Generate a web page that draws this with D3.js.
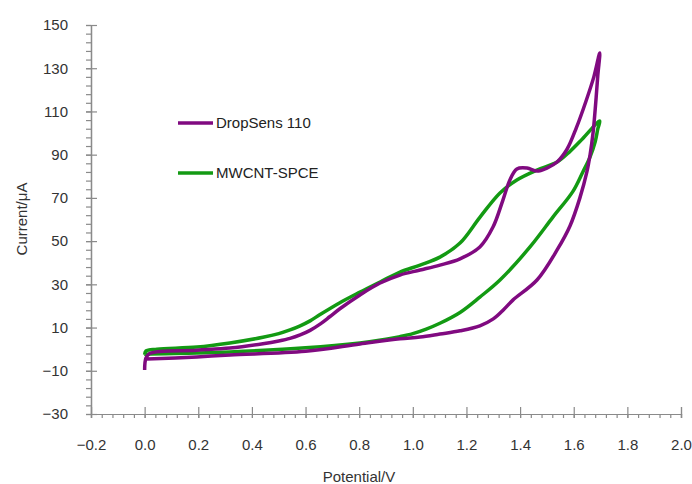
<!DOCTYPE html>
<html>
<head>
<meta charset="utf-8">
<script src="https://cdn.jsdelivr.net/npm/d3@7"></script>
<style>
  body { margin: 0; background: #fff; }
  text { font-family: "Liberation Sans", Arial, sans-serif; }
</style>
</head>
<body>
<script>
// cyclic voltammograms: forward scan then reverse scan
const dropSensV = [0.0, 0.005, 0.02, 0.195, 0.318, 0.441, 0.5, 0.542, 0.58, 0.617, 0.654, 0.69, 0.728, 0.803, 0.878, 0.952, 1.027, 1.101, 1.176, 1.25, 1.299, 1.336, 1.362, 1.388, 1.426, 1.463, 1.5, 1.538, 1.575, 1.61, 1.645, 1.675, 1.697,
  1.69, 1.682, 1.672, 1.661, 1.649, 1.623, 1.586, 1.538, 1.463, 1.373, 1.34, 1.3, 1.25, 1.176, 1.101, 1.027, 0.952, 0.803, 0.6, 0.318, 0.195, 0.009]
const dropSensI = [-9.6, -4.1, -1.9, -0.5, 0.5, 2.5, 3.8, 5.0, 6.6, 8.7, 11.6, 15.0, 18.7, 25.1, 30.6, 34.3, 36.6, 38.9, 41.8, 47.3, 56.5, 69.0, 78.3, 83.4, 83.8, 82.4, 83.8, 86.6, 92.5, 102.5, 114.5, 126.0, 137.0,
  127.0, 114.0, 100.0, 90.0, 82.0, 70.0, 57.0, 45.9, 32.0, 22.7, 18.5, 14.0, 10.8, 8.5, 7.0, 5.6, 4.8, 2.4, -1.0, -2.7, -3.6, -4.6]

const mwcntV = [0.0, 0.005, 0.046, 0.195, 0.318, 0.441, 0.5, 0.542, 0.58, 0.617, 0.654, 0.728, 0.803, 0.878, 0.952, 1.027, 1.101, 1.176, 1.25, 1.325, 1.388, 1.463, 1.538, 1.586, 1.634, 1.697,
  1.69, 1.68, 1.661, 1.634, 1.597, 1.523, 1.437, 1.325, 1.25, 1.176, 1.101, 1.05, 1.0, 0.952, 0.9, 0.803, 0.6, 0.318, 0.195, 0.02, -0.002]
const mwcntI = [-2.5, -0.8, 0.0, 1.0, 2.9, 5.5, 7.2, 8.9, 10.8, 13.1, 16.0, 21.5, 26.4, 31.1, 35.7, 38.9, 42.6, 49.1, 61.0, 72.3, 78.3, 82.9, 86.6, 91.5, 97.5, 105.6,
  102.0, 96.0, 89.0, 82.0, 73.0, 61.2, 47.3, 32.0, 24.1, 17.0, 12.0, 9.3, 7.2, 5.8, 4.6, 2.9, 0.6, -1.3, -1.8, -2.2, -2.4]

const seriesNames = ['DropSens 110', 'MWCNT-SPCE']
const xTicks = [-0.2, 0.0, 0.2, 0.4, 0.6, 0.8, 1.0, 1.2, 1.4, 1.6, 1.8, 2.0]
const yTicks = [-30, -10, 10, 30, 50, 70, 90, 110, 130, 150]

const m = { width: 692, height: 484 }
const colors = ['#800a80', '#139a13']

const svg = d3.select('body').append('svg')
  .attr('width', m.width)
  .attr('height', m.height)

const x = d3.scaleLinear().domain([-0.2, 2.0]).range([91, 681])
const y = d3.scaleLinear().domain([-30, 150]).range([414, 25])

const axisColor = '#8a8a8a'
const labelColor = '#333'

function styleAxis(g) {
  g.select('.domain').attr('stroke', axisColor).attr('stroke-width', 1.2)
  g.selectAll('.tick line').attr('stroke', axisColor).attr('stroke-width', 1.2)
  g.selectAll('.tick text').attr('fill', labelColor).attr('font-size', 15)
}

// minor ticks
const xMinor = d3.range(-0.2, 2.0001, 0.04)
const yMinor = d3.range(-30, 150.001, 4)

svg.append('g')
  .attr('transform', 'translate(0,414)')
  .call(d3.axisBottom(x).tickValues(xMinor).tickSize(4).tickFormat(''))
  .call(styleAxis)

svg.append('g')
  .attr('transform', 'translate(91,0)')
  .call(d3.axisLeft(y).tickValues(yMinor).tickSize(5).tickFormat(''))
  .call(styleAxis)

// major ticks crossing the axes
svg.append('g')
  .attr('transform', 'translate(0,414)')
  .call(d3.axisTop(x).tickValues(xTicks).tickSize(7).tickFormat(''))
  .call(styleAxis)

svg.append('g')
  .attr('transform', 'translate(91,0)')
  .call(d3.axisRight(y).tickValues(yTicks).tickSize(6).tickFormat(''))
  .call(styleAxis)

svg.append('g')
  .attr('transform', 'translate(0,414)')
  .call(d3.axisBottom(x).tickValues(xTicks).tickSize(4).tickPadding(21).tickFormat(d3.format('.1f')))
  .call(styleAxis)

svg.append('g')
  .attr('transform', 'translate(91,0)')
  .call(d3.axisLeft(y).tickValues(yTicks).tickSize(5).tickPadding(18))
  .call(styleAxis)

// axis titles
svg.append('text')
  .attr('x', 359)
  .attr('y', 482)
  .attr('text-anchor', 'middle')
  .attr('font-size', 15)
  .attr('fill', labelColor)
  .text('Potential/V')

svg.append('text')
  .attr('transform', 'translate(27,219) rotate(-90)')
  .attr('text-anchor', 'middle')
  .attr('font-size', 15)
  .attr('fill', labelColor)
  .text('Current/μA')

// curves
const line = d3.line()
  .x(d => x(d[0]))
  .y(d => y(d[1]))
  .curve(d3.curveCatmullRom.alpha(0.5))

const seriesData = [
  d3.zip(dropSensV, dropSensI),
  d3.zip(mwcntV, mwcntI)
]

// green first, purple on top
svg.append('path')
  .attr('d', line(seriesData[1]))
  .attr('fill', 'none')
  .attr('stroke', colors[1])
  .attr('stroke-width', 3.5)
  .attr('stroke-linejoin', 'round')

svg.append('path')
  .attr('d', line(seriesData[0]))
  .attr('fill', 'none')
  .attr('stroke', colors[0])
  .attr('stroke-width', 3.5)
  .attr('stroke-linejoin', 'round')

// legend
const legend = svg.append('g')
seriesNames.forEach(function(name, i) {
  const ly = 123 + i * 50
  legend.append('line')
    .attr('x1', 178).attr('x2', 213)
    .attr('y1', ly).attr('y2', ly)
    .attr('stroke', colors[i])
    .attr('stroke-width', 3.5)
  legend.append('text')
    .attr('x', 216)
    .attr('y', ly + 5)
    .attr('font-size', 15)
    .attr('fill', '#222')
    .text(name)
})
</script>
</body>
</html>
